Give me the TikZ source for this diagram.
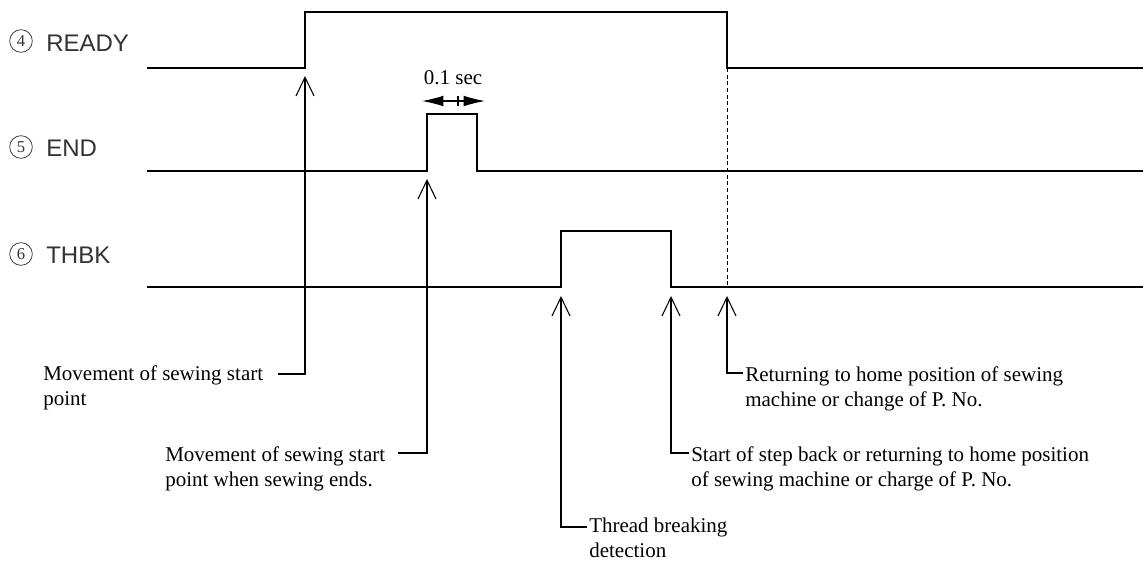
\documentclass[tikz,border=0pt]{standalone}
\usepackage{fontspec}
\setmainfont{Liberation Serif}
\newfontfamily\lblfont{Liberation Sans}
\usetikzlibrary{arrows.meta}
\begin{document}
\begin{tikzpicture}[x=0.75pt,y=-0.75pt,
  sig/.style={line width=1.4pt, line join=miter},
  lead/.style={line width=0.8pt, -{Straight Barb[length=14pt,width=13.5pt,line width=0.8pt]}},
  dashline/.style={line width=0.7pt, dash pattern=on 3pt off 2pt},
  rowlbl/.style={font=\lblfont\fontsize{18}{20}\selectfont, text=black!80, anchor=west, inner sep=0pt},
  numlbl/.style={circle, draw=black!75, line width=0.6pt, minimum size=17pt, inner sep=0pt,
                 font=\fontsize{12.5}{14}\selectfont, text=black!80},
  note/.style={font=\fontsize{15.75}{18.75}\selectfont, align=left, anchor=north west, inner sep=0pt},
  durarrow/.style={line width=0.8pt, -{Latex[length=16pt,width=8pt]}}
]
\useasboundingbox (0,0) rectangle (1143,561);

% row labels
\node[numlbl] (n4) at (21,41) {4};
\node[rowlbl] (ready) at (46,43) {READY};
\node[numlbl] (n5) at (21,147) {5};
\node[rowlbl] (endl) at (46,148) {END};
\node[numlbl] (n6) at (21,254) {6};
\node[rowlbl] (thbk) at (46,255) {THBK};

% signals
\draw[sig] (147,68) -- (305,68) -- (305,12) -- (727,12) -- (727,68) -- (1143,68);
\draw[sig] (147,171) -- (427,171) -- (427,114) -- (477,114) -- (477,171) -- (1143,171);
\draw[sig] (147,287) -- (561,287) -- (561,231) -- (671,231) -- (671,287) -- (1143,287);
\draw[dashline] (727,68) -- (727,287);

% 0.1 sec
\coordinate (pc) at (458,101);
\coordinate (pl) at (422,101);
\coordinate (pr) at (485,101);
\draw[durarrow] (pc) -- (pl);
\draw[durarrow] (pc) -- (pr);
\draw[line width=0.8pt] (458,96) -- (458,106);
\node[font=\fontsize{15.75}{18.75}\selectfont, inner sep=0pt] (dur) at (453,78) {0.1 sec};

% arrow tips
\coordinate (tA) at (305,76);
\coordinate (tB) at (427,179);
\coordinate (tC) at (561,296);
\coordinate (tD) at (671,296);
\coordinate (tE) at (727,296);

% notes
\node[note] (nA) at (43,365) {Movement of sewing start\\point};
\coordinate (cA) at (278,374);
\draw[lead] (cA) -| (tA);

\node[note] (nB) at (165,446) {Movement of sewing start\\point when sewing ends.};
\coordinate (cB) at (398,453);
\draw[lead] (cB) -| (tB);

\node[note] (nC) at (589,518) {Thread breaking\\detection};
\coordinate (cC) at (587,527);
\draw[lead] (cC) -| (tC);

\node[note] (nD) at (691,446) {Start of step back or returning to home position\\of sewing machine or charge of P. No.};
\coordinate (cD) at (689,453);
\draw[lead] (cD) -| (tD);

\node[note] (nE) at (745,366) {Returning to home position of sewing\\machine or change of P. No.};
\coordinate (cE) at (743,373);
\draw[lead] (cE) -| (tE);
\end{tikzpicture}
\end{document}
